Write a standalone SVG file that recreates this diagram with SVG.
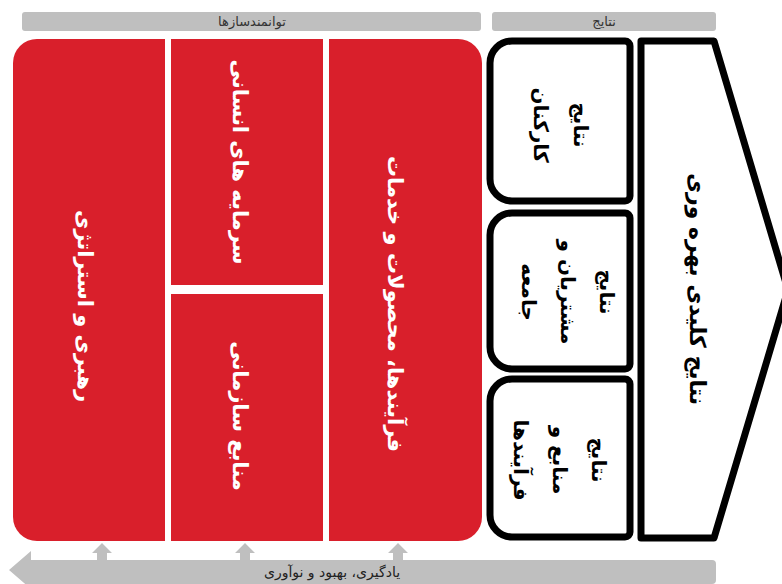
<svg xmlns="http://www.w3.org/2000/svg" width="782" height="584" viewBox="0 0 782 584">
<style>
.bar{fill:#bfbfbf}
.red{fill:#d91f2b}
.res{fill:#fff;stroke:#000;stroke-width:7;stroke-linejoin:round}
.hdr{font-family:"DejaVu Sans",sans-serif;font-size:13px;fill:#333;text-anchor:middle}
.wt{font-family:"DejaVu Sans",sans-serif;font-weight:bold;font-size:21px;fill:#fff;text-anchor:middle}
.bt{font-family:"DejaVu Sans",sans-serif;font-weight:bold;font-size:20px;fill:#000;text-anchor:middle}
.grey{fill:#bfbfbf}
</style>
<rect width="782" height="584" fill="#fff"/>
<g id="hdr-enablers">
<rect class="bar" x="22" y="12" width="459" height="19" rx="3"/>
<text class="hdr" x="252" y="26" direction="rtl">توانمندسازها</text>
</g>
<g id="hdr-results">
<rect class="bar" x="492" y="12" width="224" height="19" rx="3"/>
<text class="hdr" x="604" y="26" direction="rtl">نتایج</text>
</g>
<g id="leadership">
<path class="red" d="M37,39 H165 V541 H37 A24,24 0 0 1 13,517 V63 A24,24 0 0 1 37,39 Z"/>
<text class="wt" transform="translate(86,306) rotate(90)" y="8" direction="rtl">رهبری و استراتژی</text>
</g>
<g id="human-capital">
<rect class="red" x="171" y="39" width="152" height="246"/>
<text class="wt" transform="translate(241,162) rotate(90)" y="8" direction="rtl">سرمایه های انسانی</text>
</g>
<g id="org-resources">
<rect class="red" x="171" y="294" width="152" height="247"/>
<text class="wt" transform="translate(241,416) rotate(90)" y="8" direction="rtl">منابع سازمانی</text>
</g>
<g id="processes">
<path class="red" d="M329,39 H458 A24,24 0 0 1 482,63 V517 A24,24 0 0 1 458,541 H329 Z"/>
<text class="wt" transform="translate(396,304) rotate(90)" y="8" direction="rtl">فرآیندها، محصولات و خدمات</text>
</g>
<g id="people-results">
<path class="res" d="M512,41 H625 A5,5 0 0 1 630,46 V196 A5,5 0 0 1 625,201 H512 A22,22 0 0 1 490,179 V63 A22,22 0 0 1 512,41 Z"/>
<text class="bt" transform="translate(562,125) rotate(90)" direction="rtl"><tspan x="0" y="-12">نتایج</tspan><tspan x="0" y="28">کارکنان</tspan></text>
</g>
<g id="customer-results">
<path class="res" d="M512,213 H625 A5,5 0 0 1 630,218 V364 A5,5 0 0 1 625,369 H512 A22,22 0 0 1 490,347 V235 A22,22 0 0 1 512,213 Z"/>
<text class="bt" transform="translate(568,292) rotate(90)" direction="rtl"><tspan x="0" y="-32">نتایج</tspan><tspan x="0" y="7">مشتریان و</tspan><tspan x="0" y="46">جامعه</tspan></text>
</g>
<g id="resource-results">
<path class="res" d="M512,379 H625 A5,5 0 0 1 630,384 V532 A5,5 0 0 1 625,537 H512 A22,22 0 0 1 490,515 V401 A22,22 0 0 1 512,379 Z"/>
<text class="bt" transform="translate(560,460) rotate(90)" direction="rtl"><tspan x="0" y="-32">نتایج</tspan><tspan x="0" y="7">منابع و</tspan><tspan x="0" y="46">فرآیندها</tspan></text>
</g>
<g id="key-results">
<path class="res" d="M641,41 H714 L788,290 L714,538 H641 Z"/>
<text class="bt" style="font-size:22px" transform="translate(698,289) rotate(90)" y="8" direction="rtl">نتایج کلیدی بهره وری</text>
</g>
<g id="connectors">
<path class="grey" d="M9,570 L31,551 V560 H712 A4,4 0 0 1 716,564 V580 A4,4 0 0 1 712,584 H31 V589 Z"/>
<path class="grey" d="M102,543 L112,553 H107 V560 H97 V553 H92 Z"/>
<path class="grey" d="M245,543 L255,553 H250 V560 H240 V553 H235 Z"/>
<path class="grey" d="M398,543 L408,553 H403 V560 H393 V553 H388 Z"/>
</g>
<g id="learning">
<text class="hdr" style="font-size:14px;fill:#222" x="332" y="577" direction="rtl">یادگیری، بهبود و نوآوری</text>
</g>
</svg>
